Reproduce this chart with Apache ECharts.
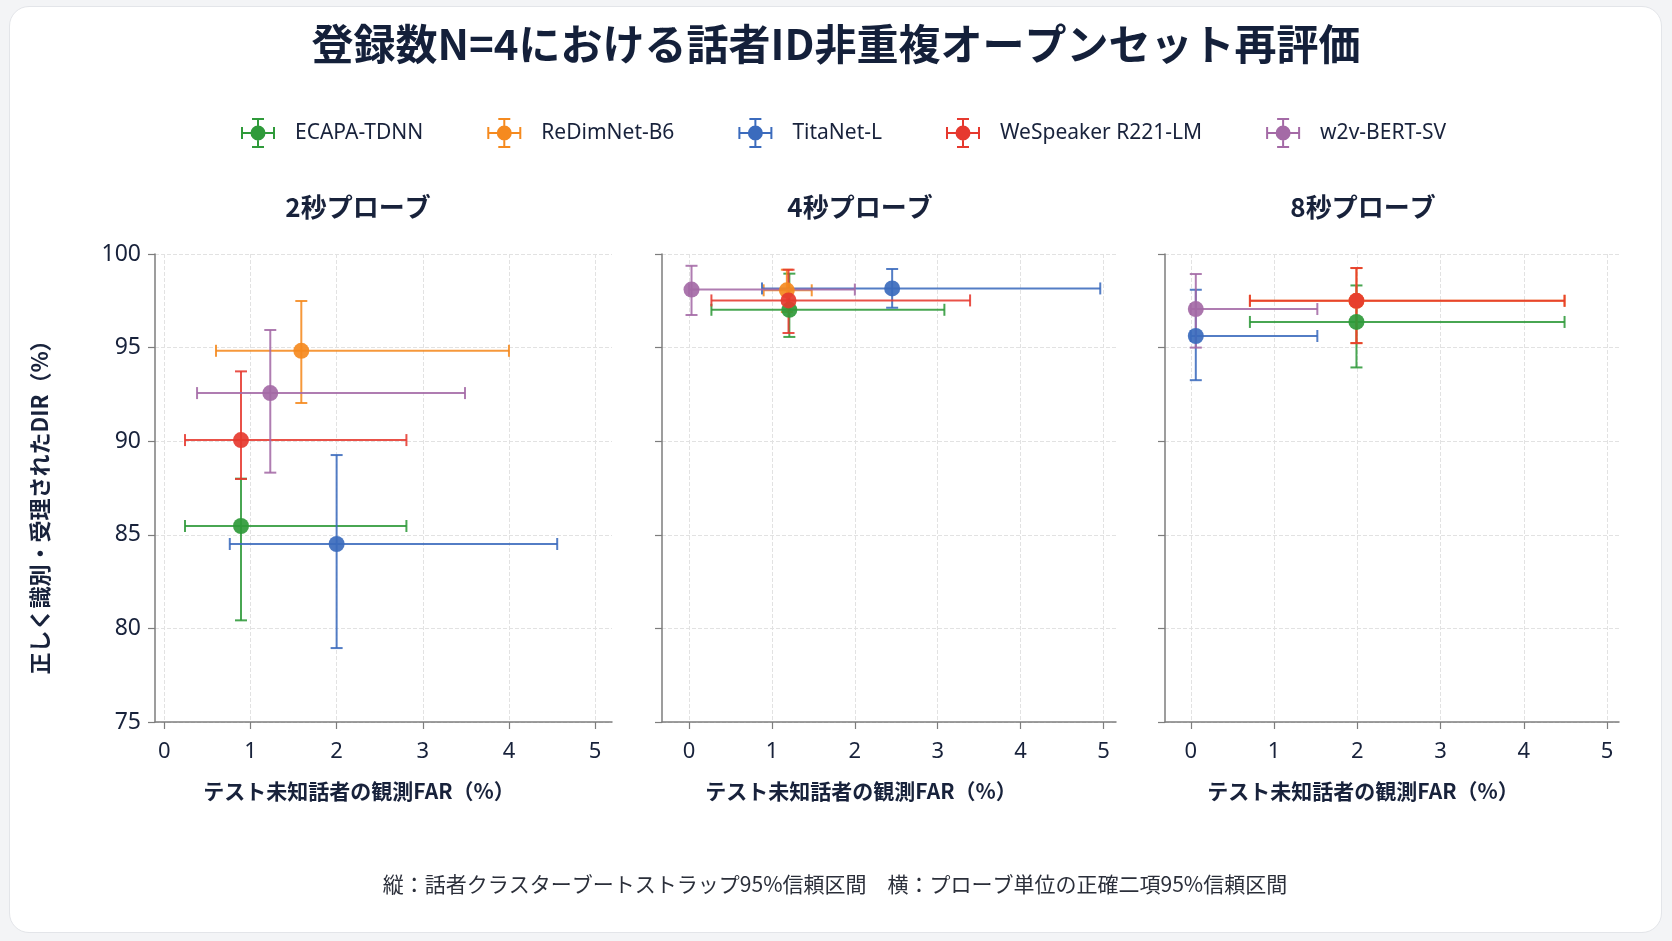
<!DOCTYPE html>
<html>
<head>
<meta charset="utf-8">
<title>登録数N=4 話者ID非重複オープンセット再評価</title>
<script src="https://cdn.jsdelivr.net/npm/echarts@6/dist/echarts.min.js"></script>
<style>
html, body { margin: 0; padding: 0; background: #f3f4f6; }
#card { position: absolute; left: 9px; top: 6px; width: 1651px; height: 925px;
        background: #fff; border: 1px solid #e3e5e9; border-radius: 20px; }
#chart { position: absolute; left: 0; top: 0; width: 1672px; height: 941px; }
</style>
</head>
<body>
<div id="card"></div>
<div id="chart"></div>
<script>
var models = ['ECAPA-TDNN', 'ReDimNet-B6', 'TitaNet-L', 'WeSpeaker R221-LM', 'w2v-BERT-SV'];
var colors = ['#2f9a3a', '#f58a1f', '#3b6bbd', '#e6392f', '#a46aa6'];
var probes = ['2秒プローブ', '4秒プローブ', '8秒プローブ'];
var xTicks = [0, 1, 2, 3, 4, 5];

// 2秒プローブ (FAR %, DIR %)
var far2   = [0.89, 1.59, 2.00, 0.89, 1.23];
var far2Lo = [0.24, 0.60, 0.76, 0.24, 0.38];
var far2Hi = [2.81, 4.00, 4.56, 2.81, 3.49];
var dir2   = [85.47, 94.83, 84.51, 90.06, 92.57];
var dir2Lo = [80.43, 92.04, 78.95, 87.98, 88.32];
var dir2Hi = [88.00, 97.49, 89.26, 93.73, 95.94];

// 4秒プローブ
var far4   = [1.21, 1.18, 2.45, 1.20, 0.03];
var far4Lo = [0.27, 0.90, 0.88, 0.27, 0.00];
var far4Hi = [3.08, 1.48, 4.96, 3.39, 2.00];
var dir4   = [97.02, 98.06, 98.16, 97.52, 98.10];
var dir4Lo = [95.57, 96.90, 97.13, 95.78, 96.74];
var dir4Hi = [98.95, 99.16, 99.20, 99.16, 99.37];

// 8秒プローブ
var far8   = [1.99, 1.99, 0.06, 1.99, 0.06];
var far8Lo = [0.71, 0.71, 0.00, 0.71, 0.00];
var far8Hi = [4.49, 4.49, 1.52, 4.49, 1.52];
var dir8   = [96.37, 97.50, 95.62, 97.50, 97.06];
var dir8Lo = [93.94, 95.24, 93.26, 95.24, 95.00];
var dir8Hi = [98.32, 99.25, 98.09, 99.25, 98.93];

var panels = [
	[far2, far2Lo, far2Hi, dir2, dir2Lo, dir2Hi],
	[far4, far4Lo, far4Hi, dir4, dir4Lo, dir4Hi],
	[far8, far8Lo, far8Hi, dir8, dir8Lo, dir8Hi]
];

var FONT = '"Noto Sans CJK JP", "Noto Sans", sans-serif';
var LATIN = '"Noto Sans", "Noto Sans CJK JP", sans-serif';
var INK = '#18223b';
var AXIS = '#7d7d7d';

var gridPos = [
	{left: 155, top: 254, width: 457, height: 468},
	{left: 662, top: 254, width: 454, height: 468},
	{left: 1165, top: 254, width: 454, height: 468}
];
var xRange = [[-0.108, 5.196], [-0.326, 5.15], [-0.31, 5.144]];
var titleX = [358, 860, 1363];
var nameX = [359, 861, 1363];

// 誤差棒アイコン
var barIcon = 'path://M0 14H34V16H0Z M0 9H2V21H0Z M32 9H34V21H32Z M16 0H18V30H16Z M11 0H23V2H11Z M11 28H23V30H11Z M9.5 15A7.5 7.5 0 1 1 24.5 15A7.5 7.5 0 1 1 9.5 15Z';

function renderBar(params, api) {
	var c = api.visual('color');
	var p = api.coord([api.value(0), api.value(1)]);
	var l = api.coord([api.value(2), api.value(1)]);
	var r = api.coord([api.value(3), api.value(1)]);
	var b = api.coord([api.value(0), api.value(4)]);
	var t = api.coord([api.value(0), api.value(5)]);
	var cap = 6;
	var st = {stroke: c, lineWidth: 2, opacity: 0.88};
	function seg(x1, y1, x2, y2) {
		return {type: 'line', shape: {x1: x1, y1: y1, x2: x2, y2: y2}, style: st};
	}
	return {
		type: 'group',
		children: [
			seg(l[0], p[1], r[0], p[1]),
			seg(l[0], p[1] - cap, l[0], p[1] + cap),
			seg(r[0], p[1] - cap, r[0], p[1] + cap),
			seg(p[0], b[1], p[0], t[1]),
			seg(p[0] - cap, b[1], p[0] + cap, b[1]),
			seg(p[0] - cap, t[1], p[0] + cap, t[1])
		]
	};
}

var grids = [], xAxes = [], yAxes = [], series = [], graphics = [];

for (var p = 0; p < 3; p++) {
	grids.push(gridPos[p]);
	xAxes.push({
		gridIndex: p, type: 'value', min: xRange[p][0], max: xRange[p][1],
		axisLine: {show: true, onZero: false, lineStyle: {color: AXIS, width: 1.5}},
		axisTick: {show: true, length: 7, customValues: xTicks, lineStyle: {color: AXIS, width: 1.2}},
		axisLabel: {customValues: xTicks, fontSize: 22, color: INK, margin: 19, fontFamily: LATIN},
		splitLine: {show: true, lineStyle: {type: 'dashed', color: '#e2e2e2'}}
	});
	yAxes.push({
		gridIndex: p, type: 'value', min: 75, max: 100, interval: 5,
		axisLine: {show: true, onZero: false, lineStyle: {color: AXIS, width: 1.5}},
		axisTick: {show: true, length: 7, lineStyle: {color: AXIS, width: 1.2}},
		axisLabel: {show: p === 0, fontSize: 23, color: INK, margin: 14, fontFamily: LATIN},
		splitLine: {show: true, lineStyle: {type: 'dashed', color: '#e2e2e2'}}
	});
	var d = panels[p];
	for (var m = 0; m < models.length; m++) {
		series.push({
			name: models[m], type: 'custom', xAxisIndex: p, yAxisIndex: p,
			itemStyle: {color: colors[m]},
			renderItem: renderBar,
			encode: {x: 0, y: 1},
			data: [[d[0][m], d[3][m], d[1][m], d[2][m], d[4][m], d[5][m]]],
			z: 2 + m * 0.01
		});
	}
	for (var m = 0; m < models.length; m++) {
		series.push({
			name: models[m], type: 'scatter', xAxisIndex: p, yAxisIndex: p,
			symbolSize: 16,
			itemStyle: {color: colors[m], opacity: 0.92},
			data: [[d[0][m], d[3][m]]],
			z: 3
		});
	}
	graphics.push({
		type: 'text', x: titleX[p], y: 207,
		style: {text: probes[p], font: 'bold 26px ' + FONT, fill: INK, align: 'center', verticalAlign: 'middle'}
	});
	graphics.push({
		type: 'text', x: nameX[p], y: 791,
		style: {text: 'テスト未知話者の観測FAR（%）', font: 'bold 21px ' + FONT, fill: INK, align: 'center', verticalAlign: 'middle'}
	});
}

graphics.push({
	type: 'text', x: 40, y: 502, rotation: Math.PI / 2,
	style: {text: '正しく識別・受理されたDIR（%）', font: 'bold 22px ' + FONT, fill: INK, align: 'center', verticalAlign: 'middle'}
});
graphics.push({
	type: 'text', x: 835, y: 884,
	style: {text: '縦：話者クラスターブートストラップ95%信頼区間　横：プローブ単位の正確二項95%信頼区間',
		font: '21px ' + FONT, fill: '#2b2f3a', align: 'center', verticalAlign: 'middle'}
});

var chart = echarts.init(document.getElementById('chart'));
chart.setOption({
	backgroundColor: 'transparent',
	animation: false,
	title: {
		text: '登録数N=4における話者ID非重複オープンセット再評価',
		left: 'center', top: 18,
		textStyle: {fontSize: 42, fontWeight: 'bold', color: '#14203a', fontFamily: FONT}
	},
	legend: {
		top: 113, left: 236,
		itemWidth: 34, itemHeight: 30, itemGap: 64,
		textStyle: {fontSize: 21, color: INK, fontFamily: LATIN, padding: [0, 0, 0, 15]},
		data: models.map(function (n) { return {name: n, icon: barIcon}; })
	},
	grid: grids,
	xAxis: xAxes,
	yAxis: yAxes,
	series: series,
	graphic: graphics
});
</script>
</body>
</html>
